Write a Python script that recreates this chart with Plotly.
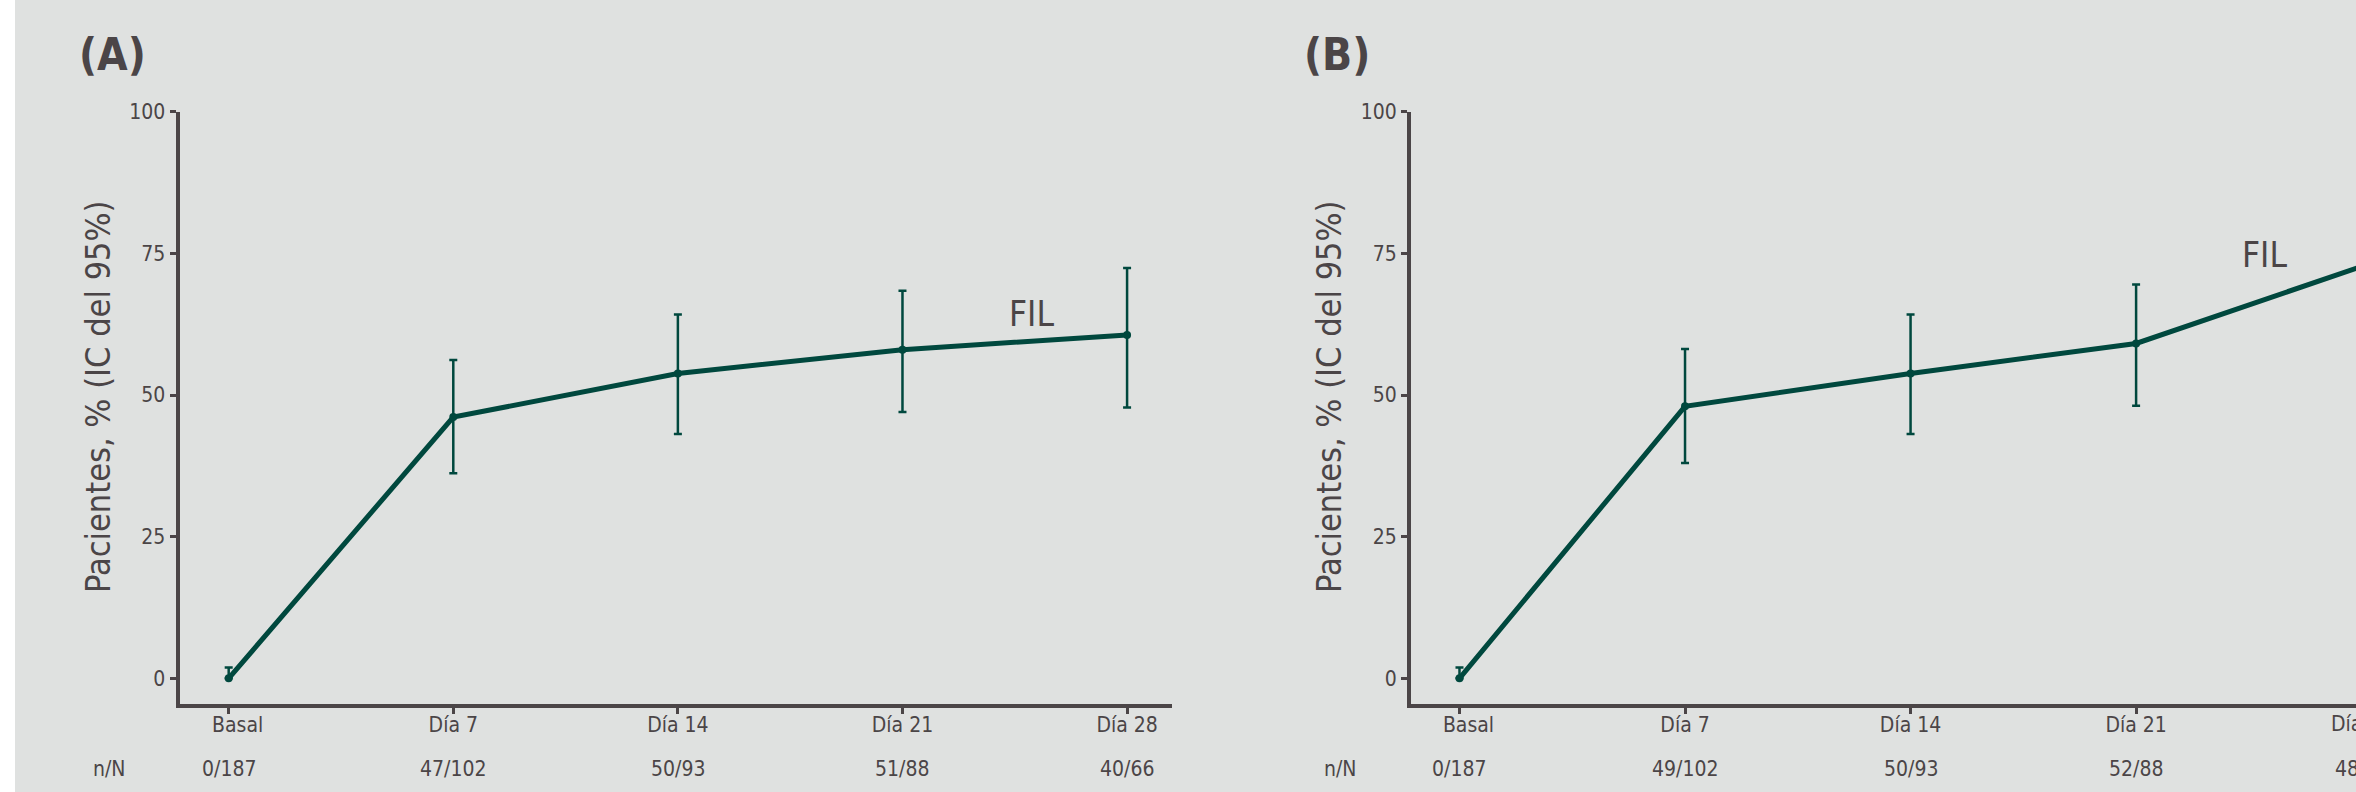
import plotly.graph_objects as go

# ---------------- data ----------------
categories = ["Basal", "Día 7", "Día 14", "Día 21", "Día 28"]
y_ticks = [0, 25, 50, 75, 100]

a_nN = ["0/187", "47/102", "50/93", "51/88", "40/66"]
a_pct = [0.0, 46.1, 53.8, 58.0, 60.6]
a_lo = [0.0, 36.2, 43.1, 47.0, 47.8]
a_hi = [1.9, 56.2, 64.2, 68.4, 72.4]

b_nN = ["0/187", "49/102", "50/93", "52/88", "48/66"]
b_pct = [0.0, 48.0, 53.8, 59.1, 72.7]
b_lo = [0.0, 38.0, 43.1, 48.1, 60.4]
b_hi = [1.9, 58.1, 64.2, 69.5, 83.0]

series_label = "FIL"
y_title = "Pacientes, % (IC del 95%)"

# ---------------- style ----------------
W, H = 2356, 792
BG = "#dfe1e0"
TXT = "#4b4547"
AX = "#4b4547"
GREEN = "#00483e"
FONT = "DejaVu Sans Condensed"
TICK_SIZE = 21

def px_x(p):
    return p / W

def px_y(p):
    return 1 - p / H

# panel geometry (pixels)
A_dom = [px_x(179.5), px_x(1172)]
A_rng = [-0.219, 4.2]
B_dom = [px_x(1411), 1.0]
B_rng = [-0.215, 3.975]
Y_dom = [px_y(703.7), px_y(111.7)]
Y_rng = [-4.48, 100]

def data_to_paper(dom, rng, v):
    return dom[0] + (v - rng[0]) / (rng[1] - rng[0]) * (dom[1] - dom[0])

xs = list(range(len(categories)))
# first label sits slightly right of its tick in the original
tick_text = ["\u00a0\u00a0\u00a0" + categories[0]] + categories[1:]

fig = go.Figure()

def add_series(pct, lo, hi, xa, ya):
    fig.add_trace(go.Scatter(
        x=xs, y=pct, mode="lines+markers",
        line=dict(color=GREEN, width=5),
        marker=dict(color=GREEN, size=8),
        error_y=dict(type="data", symmetric=False,
                     array=[h - p for h, p in zip(hi, pct)],
                     arrayminus=[p - l for p, l in zip(pct, lo)],
                     color=GREEN, thickness=2.5, width=4),
        xaxis=xa, yaxis=ya, hoverinfo="skip", showlegend=False,
    ))

add_series(a_pct, a_lo, a_hi, "x", "y")
add_series(b_pct, b_lo, b_hi, "x2", "y2")

xcommon = dict(tickmode="array", tickvals=xs, ticktext=tick_text,
               ticks="outside", ticklen=6, tickwidth=3, tickcolor=AX,
               showline=True, linewidth=4, linecolor=AX,
               showgrid=False, zeroline=False, automargin=False,
               ticklabelstandoff=-7,
               tickfont=dict(family=FONT, size=TICK_SIZE, color=TXT),
               fixedrange=True)
ycommon = dict(tickmode="array", tickvals=y_ticks,
               ticks="outside", ticklen=6, tickwidth=3, tickcolor=AX,
               showline=True, linewidth=4, linecolor=AX,
               showgrid=False, zeroline=False, automargin=False,
               tickfont=dict(family=FONT, size=TICK_SIZE, color=TXT),
               range=Y_rng, domain=Y_dom, fixedrange=True)

fig.update_layout(
    template="none",
    width=W, height=H,
    margin=dict(l=0, r=0, t=0, b=0, pad=0),
    paper_bgcolor=BG, plot_bgcolor=BG,
    showlegend=False,
    xaxis=dict(domain=A_dom, range=A_rng, anchor="y", **xcommon),
    yaxis=dict(anchor="x", **ycommon),
    xaxis2=dict(domain=B_dom, range=B_rng, anchor="y2", **xcommon),
    yaxis2=dict(anchor="x2", **ycommon),
)

shapes = [dict(type="rect", xref="paper", yref="paper", x0=0, x1=px_x(15),
               y0=0, y1=1, fillcolor="white", line=dict(width=0), layer="above")]
fig.update_layout(shapes=shapes)

ann = []
# panel letters
for letter, xp in (("(A)", 77), ("(B)", 1302)):
    ann.append(dict(text=f"<b>{letter}</b>", xref="paper", yref="paper",
                    x=px_x(xp), y=px_y(55), xanchor="left", yanchor="middle",
                    showarrow=False, font=dict(family=FONT, size=44, color=TXT)))
# y-axis titles
for xp in (98, 1329):
    ann.append(dict(text=y_title, xref="paper", yref="paper", x=px_x(xp), y=px_y(397),
                    textangle=-90, xanchor="center", yanchor="middle", showarrow=False,
                    font=dict(family=FONT, size=34, color=TXT)))
# series labels
for xp, yp in ((1031, 314), (2264, 255)):
    ann.append(dict(text=series_label, xref="paper", yref="paper", x=px_x(xp), y=px_y(yp),
                    xanchor="center", yanchor="middle", showarrow=False,
                    font=dict(family=FONT, size=35, color=TXT)))
# n/N row
for xp in (109, 1340):
    ann.append(dict(text="n/N", xref="paper", yref="paper", x=px_x(xp), y=px_y(769),
                    xanchor="center", yanchor="middle", showarrow=False,
                    font=dict(family=FONT, size=TICK_SIZE, color=TXT)))
for dom, rng, labels in ((A_dom, A_rng, a_nN), (B_dom, B_rng, b_nN)):
    for i, lab in enumerate(labels):
        ann.append(dict(text=lab, xref="paper", yref="paper",
                        x=data_to_paper(dom, rng, xs[i]), y=px_y(769),
                        xanchor="center", yanchor="middle", showarrow=False,
                        font=dict(family=FONT, size=TICK_SIZE, color=TXT)))
# last category label of panel B falls past the window edge
ann.append(dict(text=categories[-1], xref="paper", yref="paper",
                x=data_to_paper(B_dom, B_rng, xs[-1]), y=px_y(724),
                xanchor="center", yanchor="middle", showarrow=False,
                font=dict(family=FONT, size=TICK_SIZE, color=TXT)))
fig.update_layout(annotations=ann)

fig.write_html("out.html", config={"displayModeBar": False},
               post_script="document.body.style.margin='0';document.body.style.overflow='hidden';")
